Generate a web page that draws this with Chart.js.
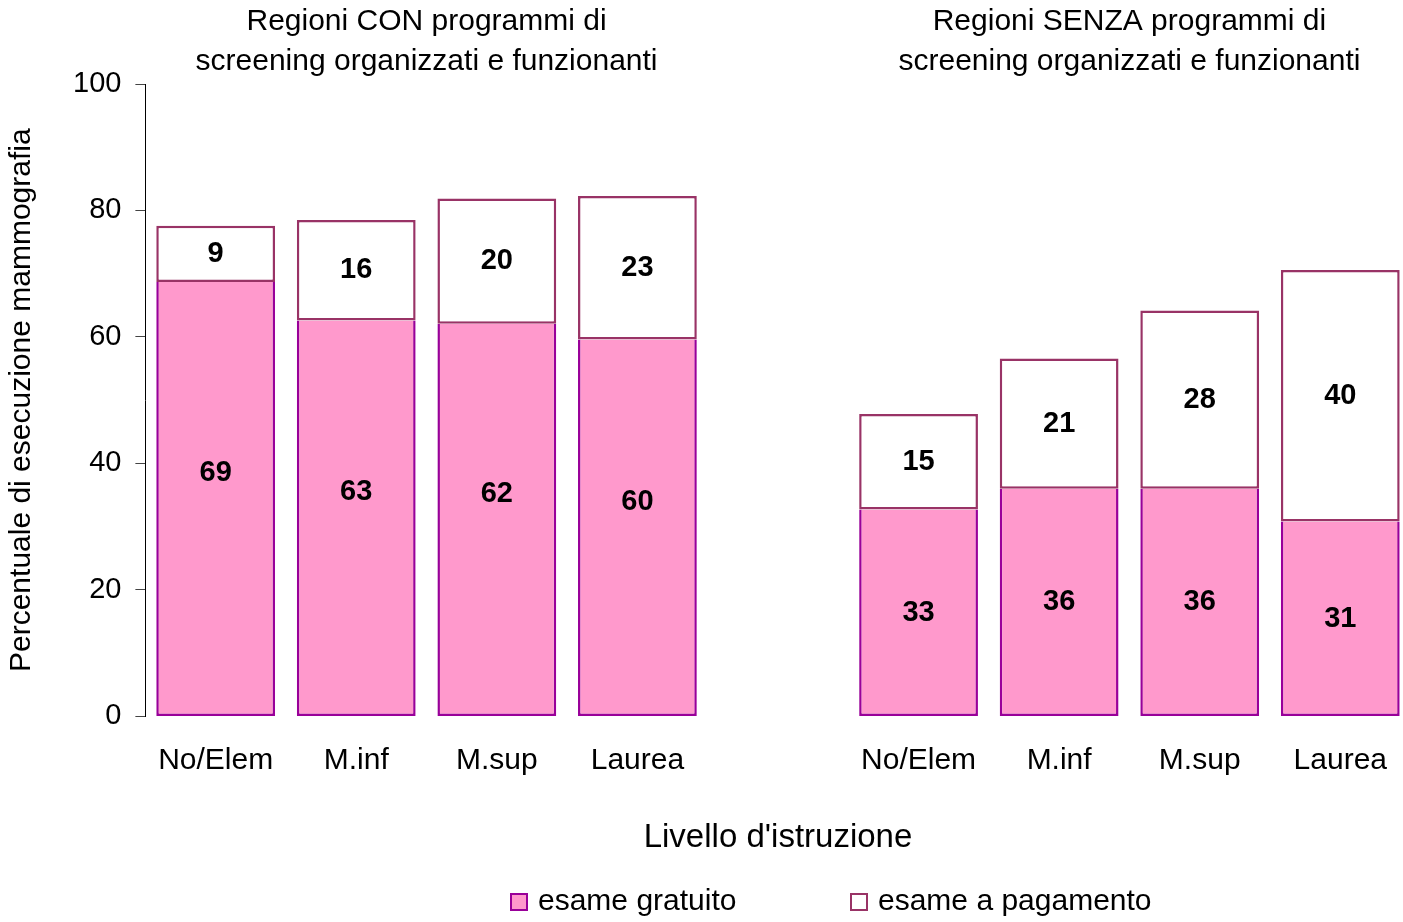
<!DOCTYPE html>
<html>
<head>
<meta charset="utf-8">
<script src="https://cdn.jsdelivr.net/npm/chart.js@4/dist/chart.umd.min.js"></script>
<style>
  html, body { margin: 0; padding: 0; overflow: hidden; background: #fff; }
</style>
</head>
<body>
<canvas id="myBarChart" width="1413" height="922"></canvas>
<script>
// data
const categories = ['No/Elem', 'M.inf', 'M.sup', 'Laurea', '', 'No/Elem', 'M.inf', 'M.sup', 'Laurea'];
const freeExam = [68.7, 62.6, 62.1, 59.6, null, 32.7, 36.0, 36.0, 30.8];
const paidExam = [8.9, 15.9, 19.8, 22.7, null, 15.1, 20.6, 28.2, 39.8];
const seriesNames = ['esame gratuito', 'esame a pagamento'];
const groupTitles = [
    ['Regioni CON programmi di', 'screening organizzati e funzionanti'],
    ['Regioni SENZA programmi di', 'screening organizzati e funzionanti']
];

const FONT = '"Liberation Sans", Arial, sans-serif';
const lowLabelLift = 26; // left group labels sit a bit above center

const overlay = {
    id: 'overlay',
    afterDatasetsDraw(chart) {
        const ctx = chart.ctx;
        const xs = chart.scales.x;
        ctx.save();
        ctx.fillStyle = '#000';
        ctx.textAlign = 'center';
        ctx.textBaseline = 'middle';

        // value labels
        ctx.font = 'bold 29px ' + FONT;
        chart.data.datasets.forEach((ds, di) => {
            chart.getDatasetMeta(di).data.forEach((bar, i) => {
                const v = ds.data[i];
                if (v == null) return;
                let cy = (bar.y + bar.base) / 2;
                if (di === 0 && i < 4) cy -= lowLabelLift;
                ctx.fillText(Math.round(v), bar.x, cy);
            });
        });

        // group titles
        ctx.font = '30px ' + FONT;
        groupTitles.forEach((lines, g) => {
            const cx = (xs.getPixelForValue(g * 5) + xs.getPixelForValue(g * 5 + 3)) / 2;
            lines.forEach((t, k) => ctx.fillText(t, cx, 22 + k * 40));
        });

        // legend
        ctx.textAlign = 'left';
        ctx.font = '30px ' + FONT;
        const legendX = [511, 851];
        const ly = 902;
        chart.data.datasets.forEach((ds, di) => {
            const bx = legendX[di];
            ctx.fillStyle = ds.backgroundColor;
            ctx.fillRect(bx, ly - 8, 16, 16);
            ctx.strokeStyle = ds.borderColor;
            ctx.lineWidth = 2;
            ctx.strokeRect(bx, ly - 8, 16, 16);
            ctx.fillStyle = '#000';
            ctx.fillText(ds.label, bx + 27, ly);
        });
        ctx.restore();
    }
};

const data = {
    labels: categories,
    datasets: [{
        label: seriesNames[0],
        data: freeExam,
        backgroundColor: '#FF99CC',
        borderColor: '#990099',
        borderWidth: 2.5,
        borderSkipped: 'end',
        barPercentage: 0.845,
        categoryPercentage: 1
    }, {
        label: seriesNames[1],
        data: paidExam,
        backgroundColor: '#FFFFFF',
        borderColor: '#993366',
        borderWidth: 2.5,
        borderSkipped: false,
        barPercentage: 0.845,
        categoryPercentage: 1
    }]
};

const config = {
    type: 'bar',
    data: data,
    plugins: [overlay],
    options: {
        responsive: false,
        animation: false,
        layout: { padding: { top: 84, left: 0, right: 0, bottom: 60 } },
        plugins: {
            legend: { display: false },
            tooltip: { enabled: false }
        },
        scales: {
            x: {
                stacked: true,
                grid: { display: false, drawTicks: false },
                border: { display: false },
                ticks: { color: '#000', padding: 26, font: { family: FONT, size: 30 } },
                title: {
                    display: true,
                    text: "Livello d'istruzione",
                    color: '#000',
                    font: { family: FONT, size: 33 },
                    padding: { top: 14, bottom: 4 }
                }
            },
            y: {
                stacked: true,
                min: 0,
                max: 100,
                ticks: { stepSize: 20, color: '#000', padding: 14, font: { family: FONT, size: 29 } },
                grid: { drawOnChartArea: false, tickLength: 10, color: '#444' },
                border: { color: '#000', width: 1 },
                title: {
                    display: true,
                    text: 'Percentuale di esecuzione mammografia',
                    color: '#000',
                    font: { family: FONT, size: 30 },
                    padding: { top: 4, bottom: 19 }
                }
            }
        }
    }
};

// eslint-disable-next-line
const barChart = new Chart(document.querySelector('#myBarChart'), config);
</script>
</body>
</html>
